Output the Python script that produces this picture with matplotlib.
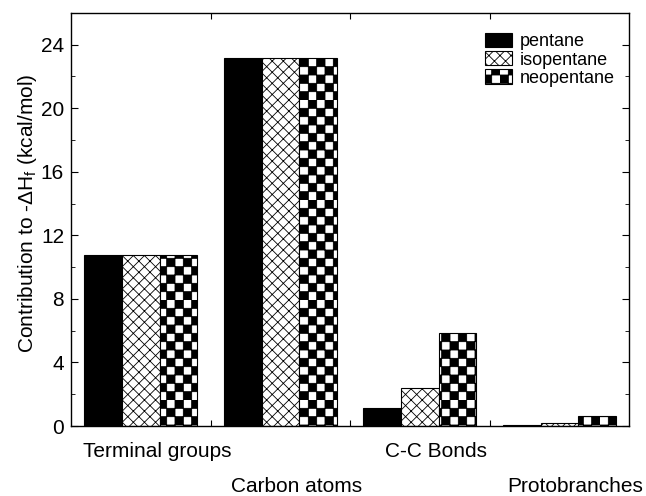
import warnings
import matplotlib
matplotlib.use('Agg')
import matplotlib.pyplot as plt
import numpy as np
from matplotlib import hatch as mhatch
from matplotlib.path import Path
from matplotlib.ticker import MultipleLocator

warnings.filterwarnings('ignore')

groups = ['Terminal groups', 'Carbon atoms', 'C-C Bonds', 'Protobranches']
pentane = [10.75, 23.15, 1.15, 0.05]
isopentane = [10.75, 23.15, 2.4, 0.17]
neopentane = [10.75, 23.15, 5.85, 0.63]


# filled checkerboard hatch, used with the letter 'c'
class Checker(mhatch.HatchPatternBase):
    def __init__(self, hatch, density):
        self.n = 12 if 'c' in hatch else 0
        self.num_vertices = (self.n * self.n // 2) * 5

    def set_vertices_and_codes(self, vertices, codes):
        s = 1.0 / self.n
        k = 0
        for i in range(self.n):
            for j in range(self.n):
                if (i + j) % 2:
                    continue
                x0, y0 = i * s, j * s
                vertices[k:k + 5] = [(x0, y0), (x0 + s, y0), (x0 + s, y0 + s),
                                     (x0, y0 + s), (x0, y0)]
                codes[k:k + 5] = [Path.MOVETO, Path.LINETO, Path.LINETO,
                                  Path.LINETO, Path.CLOSEPOLY]
                k += 5


mhatch._hatch_types.append(Checker)

plt.rcParams['font.family'] = ['Liberation Sans', 'DejaVu Sans']
plt.rcParams['hatch.linewidth'] = 0.6

fig = plt.figure(figsize=(6.46, 4.96), dpi=100)
ax = fig.add_axes([0.110, 0.141, 0.864, 0.833])

x = np.arange(len(groups)) + 0.5
w = 0.27
ax.bar(x - w, pentane, w, color='black', edgecolor='black', linewidth=0.8,
       label='pentane')
ax.bar(x, isopentane, w, color='white', edgecolor='black', hatch='xxx',
       linewidth=0.8, label='isopentane')
ax.bar(x + w, neopentane, w, color='white', edgecolor='black', hatch='c',
       linewidth=0.8, label='neopentane')

ax.set_xlim(0, 4)
ax.set_ylim(0, 26)
ax.set_xticks([1, 2, 3])
ax.set_xticklabels([])
ax.yaxis.set_major_locator(MultipleLocator(4))
ax.yaxis.set_minor_locator(MultipleLocator(2))
ax.tick_params(axis='both', which='both', direction='in', top=True, right=True)
ax.tick_params(axis='y', which='major', length=5, labelsize=15, pad=5)
ax.tick_params(axis='y', which='minor', length=3)
ax.tick_params(axis='x', which='major', length=4)
for sp in ax.spines.values():
    sp.set_linewidth(1.0)

for i, name in enumerate(groups):
    dy = -22 if i % 2 == 0 else -47.5
    ax.annotate(name, xy=(x[i], 0), xycoords=('data', 'axes fraction'),
                xytext=(11.5, dy), textcoords='offset points',
                ha='center', va='baseline', fontsize=15)

ax.set_ylabel(r'Contribution to -ΔH$_\mathregular{f}$ (kcal/mol)', fontsize=15,
              labelpad=1)
ax.yaxis.set_label_coords(-0.058, 0.515)

ax.legend(loc='upper left', bbox_to_anchor=(0.742, 0.952), frameon=False,
          fontsize=13, handlelength=1.5, handleheight=0.85, handletextpad=0.4,
          labelspacing=0.05, borderpad=0, borderaxespad=0)

fig.savefig('out.png', dpi=100)
